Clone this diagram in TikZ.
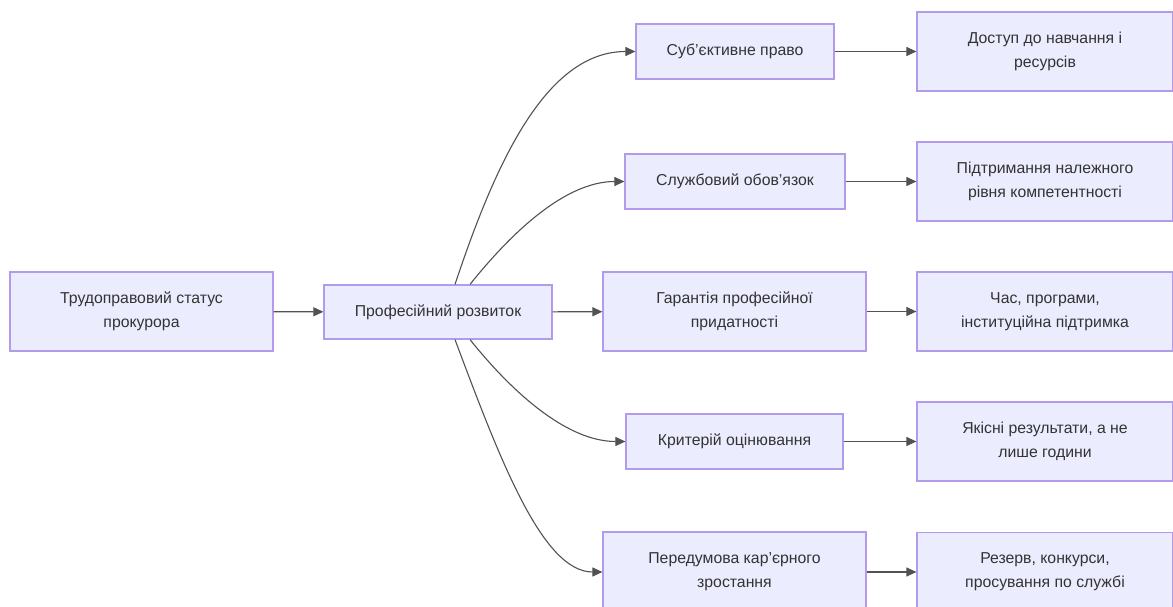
\documentclass[tikz,border=0pt]{standalone}
\usepackage{fontspec}
\setmainfont{Liberation Sans}
\usetikzlibrary{arrows.meta, calc}
\definecolor{boxfill}{HTML}{ECECFF}
\definecolor{boxline}{HTML}{B39BEC}
\definecolor{linkgray}{HTML}{333333}
\definecolor{textgray}{HTML}{333333}
\tikzset{
  stepbox/.style={draw=boxline, fill=boxfill, line width=1.2pt, inner sep=0pt,
    align=center, text=textgray, font=\fontsize{15.8}{24}\selectfont},
  goalbox/.style={stepbox, minimum width=256pt, minimum height=79pt},
  link/.style={draw=linkgray!85, line width=1.1pt, -{Triangle[length=10pt, width=9pt]}}
}

\begin{document}
\begin{tikzpicture}[x=1pt, y=-1pt]
  \useasboundingbox (0,0) rectangle (1173,607);
  \clip (0,0) rectangle (1173,607);

  % Source and hub
  \node[stepbox, minimum width=263pt, minimum height=79pt] (status) at (141.5,311.5) {Трудоправовий статус\\прокурора};
  \node[stepbox, minimum width=228pt, minimum height=54pt] (develop) at (438,312) {Професійний розвиток};

  % Middle column
  \node[stepbox, minimum width=198pt, minimum height=55pt] (right) at (735,51.5) {Суб’єктивне право};
  \node[stepbox, minimum width=220pt, minimum height=55pt] (duty) at (735,181.5) {Службовий обов’язок};
  \node[stepbox, minimum width=263pt, minimum height=79pt] (fitness) at (734.5,311.5) {Гарантія професійної\\придатності};
  \node[stepbox, minimum width=217pt, minimum height=55pt] (criterion) at (734.5,441.5) {Критерій оцінювання};
  \node[stepbox, minimum width=263pt, minimum height=80pt] (career) at (734.5,572) {Передумова кар’єрного\\зростання};

  % Right column
  \node[goalbox] (access) at (1045,51.5) {Доступ до навчання і\\ресурсів};
  \node[goalbox] (level) at (1045,181.5) {Підтримання належного\\рівня компетентності};
  \node[goalbox] (support) at (1045,311.5) {Час, програми,\\інституційна підтримка};
  \node[goalbox] (results) at (1045,441.5) {Якісні результати, а не\\лише години};
  \node[goalbox] (reserve) at (1045,572) {Резерв, конкурси,\\просування по службі};

  % Connectors
  \draw[link] (status) -- (develop);
  \draw[link] ([xshift=17pt]develop.north) .. controls +(40,-120) and +(-90,0) .. (right.west);
  \draw[link] ([xshift=32pt]develop.north) .. controls +(40,-50) and +(-60,0) .. (duty.west);
  \draw[link] (develop) -- (fitness);
  \draw[link] ([xshift=32pt]develop.south) .. controls +(40,50) and +(-60,0) .. (criterion.west);
  \draw[link] ([xshift=17pt]develop.south) .. controls +(45,120) and +(-60,0) .. (career.west);

  \draw[link] (right) -- (access);
  \draw[link] (duty) -- (level);
  \draw[link] (fitness) -- (support);
  \draw[link] (criterion) -- (results);
  \draw[link] (career.east) -- (reserve.west |- career.east);
\end{tikzpicture}
\end{document}
